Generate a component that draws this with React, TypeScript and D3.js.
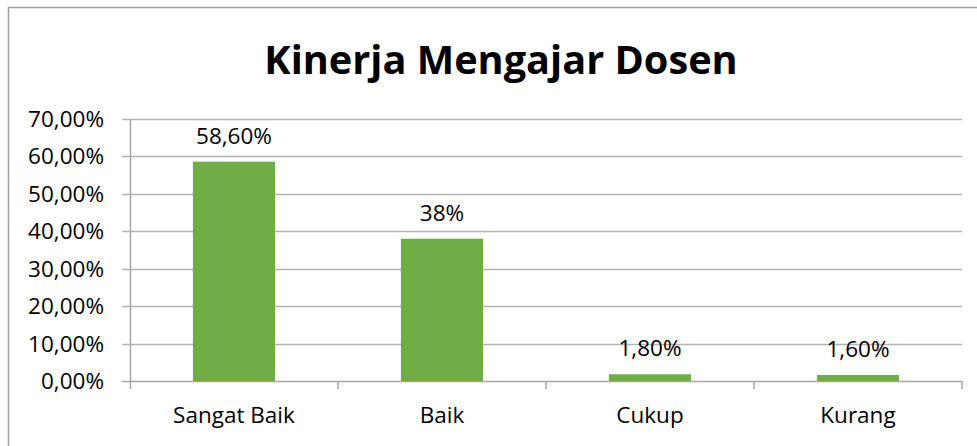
import React from "react";
import * as d3 from "d3";

const categories = ["Sangat Baik", "Baik", "Cukup", "Kurang"];
const values = [58.6, 38, 1.8, 1.6];
const valueLabels = ["58,60%", "38%", "1,80%", "1,60%"];
const yTicks = [0, 10, 20, 30, 40, 50, 60, 70];
const title = "Kinerja Mengajar Dosen";

const W = 977;
const H = 446;
const FONT = "'Open Sans', 'Noto Sans', sans-serif";

export default function App() {
  const left = 130;
  const right = 962;
  const top = 119;
  const bottom = 381;
  const x = d3.scaleBand<string>().domain(categories).range([left, right]).paddingInner(0.605).paddingOuter(0.3025);
  const xOuter = d3.scaleBand<string>().domain(categories).range([left, right]);
  const y = d3.scaleLinear().domain([0, 70]).range([bottom, top]);
  const fmt = (v: number) => v.toFixed(2).replace(".", ",") + "%";
  const grid = "#b3b3b3";
  const axis = "#a6a6a6";
  const fs = 22.5;
  return (
    <svg width={W} height={H} style={{ position: "absolute", left: 0, top: 0, background: "#fff" }}>
      <rect x={8.5} y={7.5} width={1200} height={800} fill="#fff" stroke="#a0a0a0" strokeWidth={1.5} />
      <text x={501} y={74} textAnchor="middle" fontFamily={FONT} fontWeight={700} fontSize={39.7} fill="#000">
        {title}
      </text>
      {yTicks.map((t) => (
        <g key={t}>
          <line x1={122} x2={right} y1={Math.round(y(t)) + 0.5} y2={Math.round(y(t)) + 0.5} stroke={t === 0 ? axis : grid} strokeWidth={1.5} />
          <text x={104} y={y(t) + 8} textAnchor="end" fontFamily={FONT} fontSize={fs} fill="#000">
            {fmt(t)}
          </text>
        </g>
      ))}
      <line x1={left + 0.5} x2={left + 0.5} y1={top} y2={bottom + 8} stroke={axis} strokeWidth={1.5} />
      {categories.map((c) => (
        <line key={"t" + c} x1={(xOuter(c) as number) + xOuter.bandwidth()} x2={(xOuter(c) as number) + xOuter.bandwidth()} y1={bottom} y2={bottom + 8} stroke={axis} strokeWidth={1.5} />
      ))}
      {categories.map((c, i) => (
        <g key={c}>
          <rect x={x(c)} y={y(values[i])} width={x.bandwidth()} height={bottom - y(values[i])} fill="#70AD47" />
          <text x={(x(c) as number) + x.bandwidth() / 2} y={y(values[i]) - 18} textAnchor="middle" fontFamily={FONT} fontSize={fs} fill="#000">
            {valueLabels[i]}
          </text>
          <text x={(xOuter(c) as number) + xOuter.bandwidth() / 2} y={423} textAnchor="middle" fontFamily={FONT} fontSize={fs} fill="#000">
            {c}
          </text>
        </g>
      ))}
    </svg>
  );
}
